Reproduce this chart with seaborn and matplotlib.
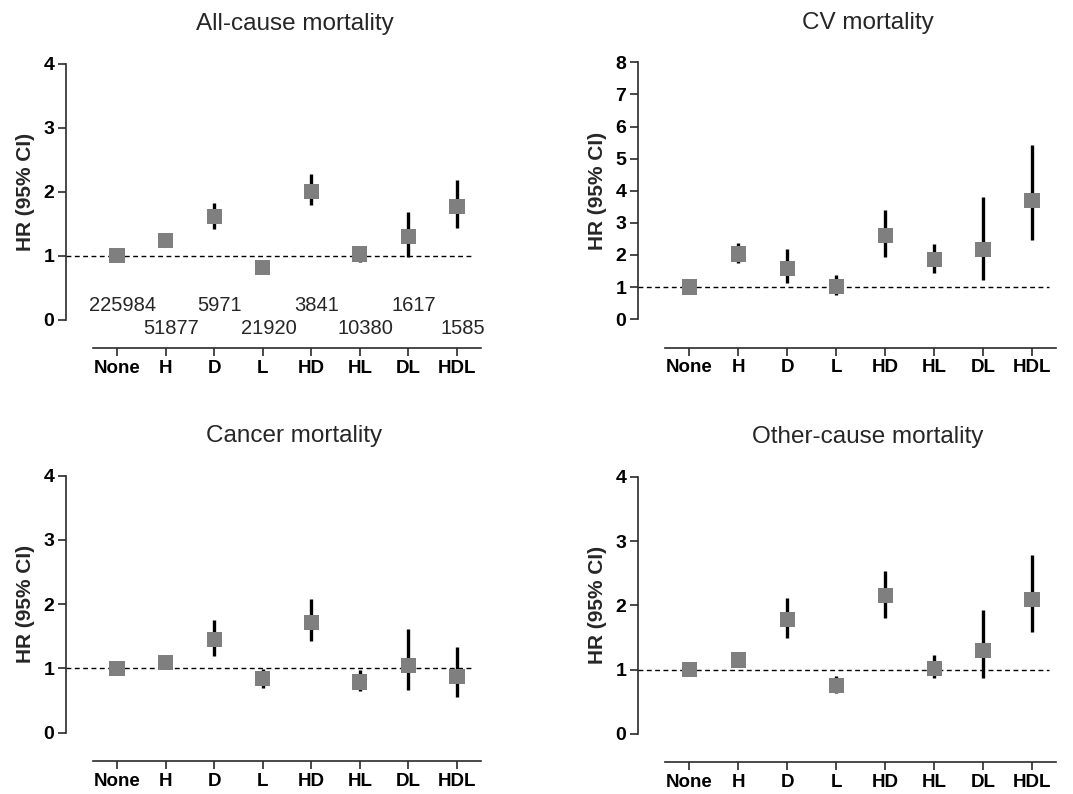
import numpy as np
import pandas as pd
import matplotlib
matplotlib.use("Agg")
import matplotlib.pyplot as plt
import seaborn as sns

# Data
groups = ["None", "H", "D", "L", "HD", "HL", "DL", "HDL"]
counts = [225984, 51877, 5971, 21920, 3841, 10380, 1617, 1585]

allcause_hr = [1.00, 1.24, 1.61, 0.82, 2.01, 1.03, 1.30, 1.77]
allcause_lo = [1.00, 1.20, 1.42, 0.76, 1.79, 0.91, 0.98, 1.43]
allcause_hi = [1.00, 1.28, 1.82, 0.92, 2.27, 1.16, 1.69, 2.18]

cv_hr = [1.00, 2.03, 1.57, 1.02, 2.60, 1.85, 2.18, 3.69]
cv_lo = [1.00, 1.75, 1.12, 0.76, 1.95, 1.43, 1.23, 2.47]
cv_hi = [1.00, 2.37, 2.19, 1.38, 3.40, 2.34, 3.82, 5.43]

cancer_hr = [1.00, 1.09, 1.45, 0.84, 1.72, 0.79, 1.04, 0.87]
cancer_lo = [1.00, 0.99, 1.19, 0.70, 1.43, 0.65, 0.66, 0.55]
cancer_hi = [1.00, 1.18, 1.75, 0.99, 2.08, 0.98, 1.61, 1.34]

other_hr = [1.00, 1.15, 1.78, 0.75, 2.15, 1.02, 1.30, 2.09]
other_lo = [1.00, 1.04, 1.50, 0.63, 1.81, 0.87, 0.87, 1.58]
other_hi = [1.00, 1.26, 2.12, 0.90, 2.53, 1.23, 1.93, 2.78]

sns.set_theme(style="ticks")
plt.rcParams['font.family'] = ['Liberation Sans', 'DejaVu Sans']

fig = plt.figure(figsize=(10.73, 7.94), dpi=100)

panels = [
    ("All-cause mortality", allcause_hr, allcause_lo, allcause_hi, 4, [0.0615, 0.597, 0.387, 0.323]),
    ("CV mortality", cv_hr, cv_lo, cv_hi, 8, [0.5946, 0.598, 0.390, 0.3235]),
    ("Cancer mortality", cancer_hr, cancer_lo, cancer_hi, 4, [0.0615, 0.0772, 0.387, 0.3237]),
    ("Other-cause mortality", other_hr, other_lo, other_hi, 4, [0.5946, 0.0756, 0.390, 0.324]),
]

spine_col = "#2a2a2a"

for k, (title, hr, lo, hi, ymax, rect) in enumerate(panels):
    ax = fig.add_axes(rect)
    df = pd.DataFrame({"group": groups, "hr": hr, "lo": lo, "hi": hi})
    xpos = np.arange(len(groups))

    # reference line at HR = 1 and the confidence intervals
    ax.hlines(1, -1.05, 7.35, colors="black", linestyles=(0, (3.5, 2.5)), linewidth=1.0, zorder=1)
    ax.vlines(xpos, df["lo"], df["hi"], colors="black", linewidth=2.4, zorder=2)
    sns.scatterplot(data=df, x="group", y="hr", marker="s", s=120, color="#7f7f7f",
                    edgecolor="none", linewidth=0, ax=ax, zorder=3)

    ax.set_xlim(-1.05, 7.5)
    ax.set_ylim(0, ymax)
    ax.set_yticks(range(0, ymax + 1))
    ax.set_xticks(xpos)
    ax.set_xticklabels(groups)

    # Prism-like detached axes
    sns.despine(ax=ax)
    ax.spines["left"].set_bounds(0, ymax)
    ax.spines["bottom"].set_position(("outward", 20.5))
    ax.spines["bottom"].set_bounds(-0.5, 7.5)
    for sp in ("left", "bottom"):
        ax.spines[sp].set_linewidth(1.2)
        ax.spines[sp].set_color(spine_col)

    ax.tick_params(axis="both", length=6, width=1.2, color=spine_col, pad=2.5)
    for lab in ax.get_xticklabels():
        lab.set_fontweight("bold")
        lab.set_fontsize(13.5)
        lab.set_color("black")
    for lab in ax.get_yticklabels():
        lab.set_fontweight("bold")
        lab.set_fontsize(14)
        lab.set_color("black")

    ax.set_xlabel("")
    ax.set_ylabel("HR (95% CI)", fontsize=15, fontweight="bold", labelpad=6)
    ax.set_title(title, fontsize=17.5, x=0.55, pad=24)

    if k == 0:
        for i, n in enumerate(counts):
            yy = 0.23 if i % 2 == 0 else -0.14
            ax.text(i + 0.12, yy, str(n), ha="center", va="center", fontsize=14.5, clip_on=False)

fig.savefig("out.png", dpi=100)
